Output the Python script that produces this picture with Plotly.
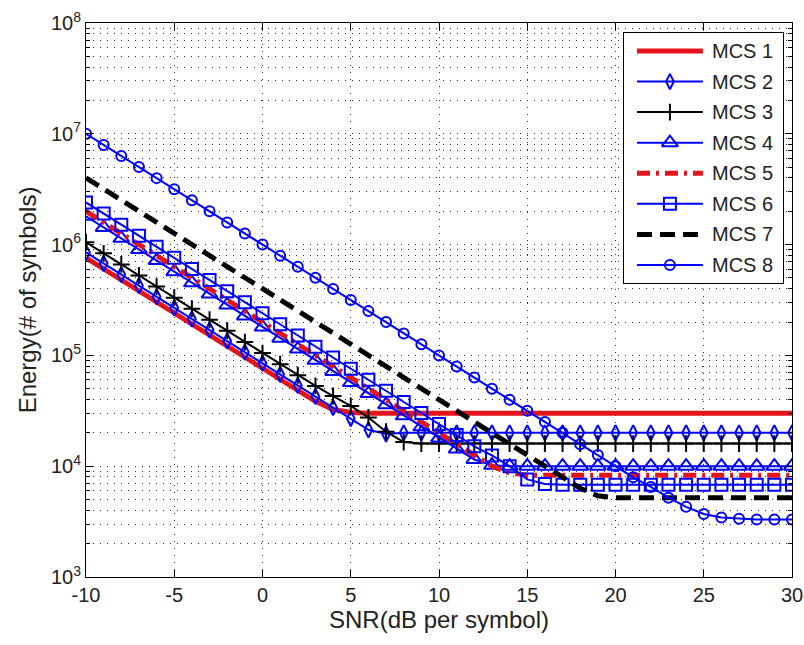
import plotly.graph_objects as go

# SNR grid (dB per symbol)
snr_db = list(range(-10, 31))

# Energy (number of symbols) per modulation and coding scheme
mcs1 = [760000, 604000, 480000, 381000, 302000, 240000, 191000, 152000, 121000, 95800,
        76000, 60400, 48000, 38500, 32500, 30500, 30000, 30000, 30000, 30000,
        30000, 30000, 30000, 30000, 30000, 30000, 30000, 30000, 30000, 30000,
        30000, 30000, 30000, 30000, 30000, 30000, 30000, 30000, 30000, 30000, 30000]
mcs2 = [850000, 675000, 536000, 426000, 338000, 269000, 213000, 170000, 135000, 107000,
        85000, 67500, 53600, 42600, 33800, 26900, 21300, 19500, 20000, 20000,
        20000, 20000, 20000, 20000, 20000, 20000, 20000, 20000, 20000, 20000,
        20000, 20000, 20000, 20000, 20000, 20000, 20000, 20000, 20000, 20000, 20000]
mcs3 = [1050000, 834000, 662000, 526000, 418000, 332000, 264000, 210000, 167000, 132000,
        105000, 83400, 66200, 53000, 43000, 35000, 27500, 20500, 16500, 16000,
        16000, 16000, 16000, 16000, 16000, 16000, 16000, 16000, 16000, 16000,
        16000, 16000, 16000, 16000, 16000, 16000, 16000, 16000, 16000, 16000, 16000]
mcs4 = [1800000, 1430000, 1140000, 902000, 717000, 569000, 452000, 359000, 285000, 227000,
        180000, 143000, 114000, 90200, 71700, 56900, 45200, 35900, 28500, 22700,
        18000, 14300, 11500, 10200, 10000, 10000, 10000, 10000, 10000, 10000,
        10000, 10000, 10000, 10000, 10000, 10000, 10000, 10000, 10000, 10000, 10000]
mcs5 = [2000000, 1590000, 1260000, 1000000, 796000, 632000, 502000, 399000, 317000, 252000,
        200000, 159000, 126000, 100000, 79600, 63200, 50200, 39900, 31700, 25200,
        20000, 15900, 12600, 10000, 8700, 8300, 8300, 8300, 8300, 8300,
        8300, 8300, 8300, 8300, 8300, 8300, 8300, 8300, 8300, 8300, 8300]
mcs6 = [2400000, 1910000, 1510000, 1200000, 955000, 759000, 603000, 479000, 380000, 302000,
        240000, 191000, 151000, 120000, 95500, 75900, 60300, 47900, 38000, 30200,
        24000, 19100, 15100, 12500, 10000, 7600, 6900, 6800, 6800, 6800,
        6800, 6800, 6800, 6800, 6800, 6800, 6800, 6800, 6800, 6800, 6800]
mcs7 = [4000000, 3180000, 2520000, 2000000, 1590000, 1260000, 1000000, 796000, 632000, 502000,
        400000, 318000, 252000, 200000, 159000, 126000, 100000, 79600, 63200, 50200,
        40000, 31800, 25200, 20000, 15900, 12600, 10000, 7960, 6320, 5400,
        5200, 5200, 5200, 5200, 5200, 5200, 5200, 5200, 5200, 5200, 5200]
mcs8 = [10000000, 7940000, 6310000, 5010000, 3980000, 3160000, 2510000, 2000000, 1580000, 1260000,
        1000000, 794000, 631000, 501000, 398000, 316000, 251000, 200000, 158000, 126000,
        100000, 79400, 63100, 50100, 39800, 31600, 25100, 20000, 15800, 12600,
        10000, 7940, 6500, 5200, 4300, 3700, 3450, 3350, 3300, 3300, 3300]

names = ["MCS 1", "MCS 2", "MCS 3", "MCS 4", "MCS 5", "MCS 6", "MCS 7", "MCS 8"]
values = [mcs1, mcs2, mcs3, mcs4, mcs5, mcs6, mcs7, mcs8]

x_tick_vals = [-10, -5, 0, 5, 10, 15, 20, 25, 30]
x_tick_text = ["-10", "-5", "0", "5", "10", "15", "20", "25", "30"]
y_tick_vals = [1e3, 1e4, 1e5, 1e6, 1e7, 1e8]
y_tick_text = ["10<sup>3</sup>", "10<sup>4</sup>", "10<sup>5</sup>",
               "10<sup>6</sup>", "10<sup>7</sup>", "10<sup>8</sup>"]

BLUE = "#0000ff"
RED = "#e3151b"
BLACK = "#000000"
TEXT = "#222222"
FONT = "Arial, Liberation Sans, Helvetica, sans-serif"

styles = [
    dict(line=dict(color=RED, width=5), marker=None),
    dict(line=dict(color=BLUE, width=2), marker=dict(symbol="diamond-tall-open", size=11)),
    dict(line=dict(color=BLACK, width=2), marker=dict(symbol="cross-thin-open", size=12)),
    dict(line=dict(color=BLUE, width=2), marker=dict(symbol="triangle-up-open", size=14)),
    dict(line=dict(color=RED, width=5, dash="13px,6px,3px,6px"), marker=None),
    dict(line=dict(color=BLUE, width=2), marker=dict(symbol="square-open", size=12)),
    dict(line=dict(color=BLACK, width=5, dash="15px,8px"), marker=None),
    dict(line=dict(color=BLUE, width=2), marker=dict(symbol="circle-open", size=10)),
]


def marker_of(st):
    return dict(st["marker"], color=st["line"]["color"],
                line=dict(width=2, color=st["line"]["color"]))


fig = go.Figure()
for name, vals, st in zip(names, values, styles):
    if st["marker"] is None:
        fig.add_trace(go.Scatter(x=snr_db, y=vals, name=name, mode="lines",
                                 line=st["line"], showlegend=False))
    else:
        fig.add_trace(go.Scatter(x=snr_db, y=vals, name=name, mode="lines+markers",
                                 line=st["line"], marker=marker_of(st), showlegend=False))

# Legend box: its own small subplot measured in pixels (x to the right, y downward)
BOX_W, BOX_H = 159, 250
ROW0, ROW_GAP = 18, 30.6
SAMPLE_X0, SAMPLE_X1, LABEL_X = 13, 79, 86

fig.add_trace(go.Scatter(x=[0, BOX_W, BOX_W, 0, 0], y=[0, 0, BOX_H, BOX_H, 0],
                         xaxis="x2", yaxis="y2", mode="lines", fill="toself",
                         fillcolor="white", line=dict(width=0, color="white"),
                         hoverinfo="skip", showlegend=False))
for i, (name, st) in enumerate(zip(names, styles)):
    row = ROW0 + i * ROW_GAP
    fig.add_trace(go.Scatter(x=[SAMPLE_X0, SAMPLE_X1], y=[row, row], xaxis="x2", yaxis="y2",
                             mode="lines", line=st["line"], hoverinfo="skip",
                             showlegend=False))
    if st["marker"] is not None:
        fig.add_trace(go.Scatter(x=[(SAMPLE_X0 + SAMPLE_X1) / 2], y=[row],
                                 xaxis="x2", yaxis="y2", mode="markers",
                                 marker=marker_of(st), hoverinfo="skip", showlegend=False))
    fig.add_annotation(x=LABEL_X, y=row, xref="x2", yref="y2", text=name,
                       showarrow=False, xanchor="left", yanchor="middle",
                       font=dict(size=20, color=TEXT, family=FONT))

grid_style = dict(showgrid=True, gridcolor="#303030", gridwidth=1, griddash="1px,6px")
minor_vals = [m * 10 ** e for e in range(3, 8) for m in range(2, 10)]

fig.update_layout(
    template="none",
    width=804, height=645,
    margin=dict(l=86, r=12, t=23, b=68),
    paper_bgcolor="white", plot_bgcolor="white",
    font=dict(family=FONT, size=20, color=TEXT),
    showlegend=False,
    xaxis=dict(range=[-10, 30], tickvals=x_tick_vals, ticktext=x_tick_text,
               ticks="inside", ticklen=7,
               tickcolor=BLACK, showline=True, linecolor=BLACK, linewidth=1,
               mirror="ticks", zeroline=False,
               tickfont=dict(size=20),
               title=dict(text="SNR(dB per symbol)", font=dict(size=24), standoff=5),
               **grid_style),
    yaxis=dict(type="log", range=[3, 8], tickvals=y_tick_vals, ticktext=y_tick_text,
               ticks="inside", ticklen=7, tickcolor=BLACK, showline=True,
               linecolor=BLACK, linewidth=1, mirror="ticks", zeroline=False,
               tickfont=dict(size=20),
               title=dict(text="Energy(# of symbols)", font=dict(size=24), standoff=7),
               minor=dict(tickmode="array", tickvals=minor_vals, ticks="inside",
                          ticklen=4, tickcolor=BLACK, **grid_style),
               **grid_style),
    xaxis2=dict(domain=[0.762, 0.987], range=[0, BOX_W], anchor="y2",
                showgrid=False, zeroline=False, showticklabels=False, ticks="",
                showline=True, linecolor=BLACK, linewidth=1, mirror=True,
                fixedrange=True),
    yaxis2=dict(domain=[0.531, 0.982], range=[BOX_H, 0], anchor="x2",
                showgrid=False, zeroline=False, showticklabels=False, ticks="",
                showline=True, linecolor=BLACK, linewidth=1, mirror=True,
                fixedrange=True),
)

fig.write_html("out.html")
